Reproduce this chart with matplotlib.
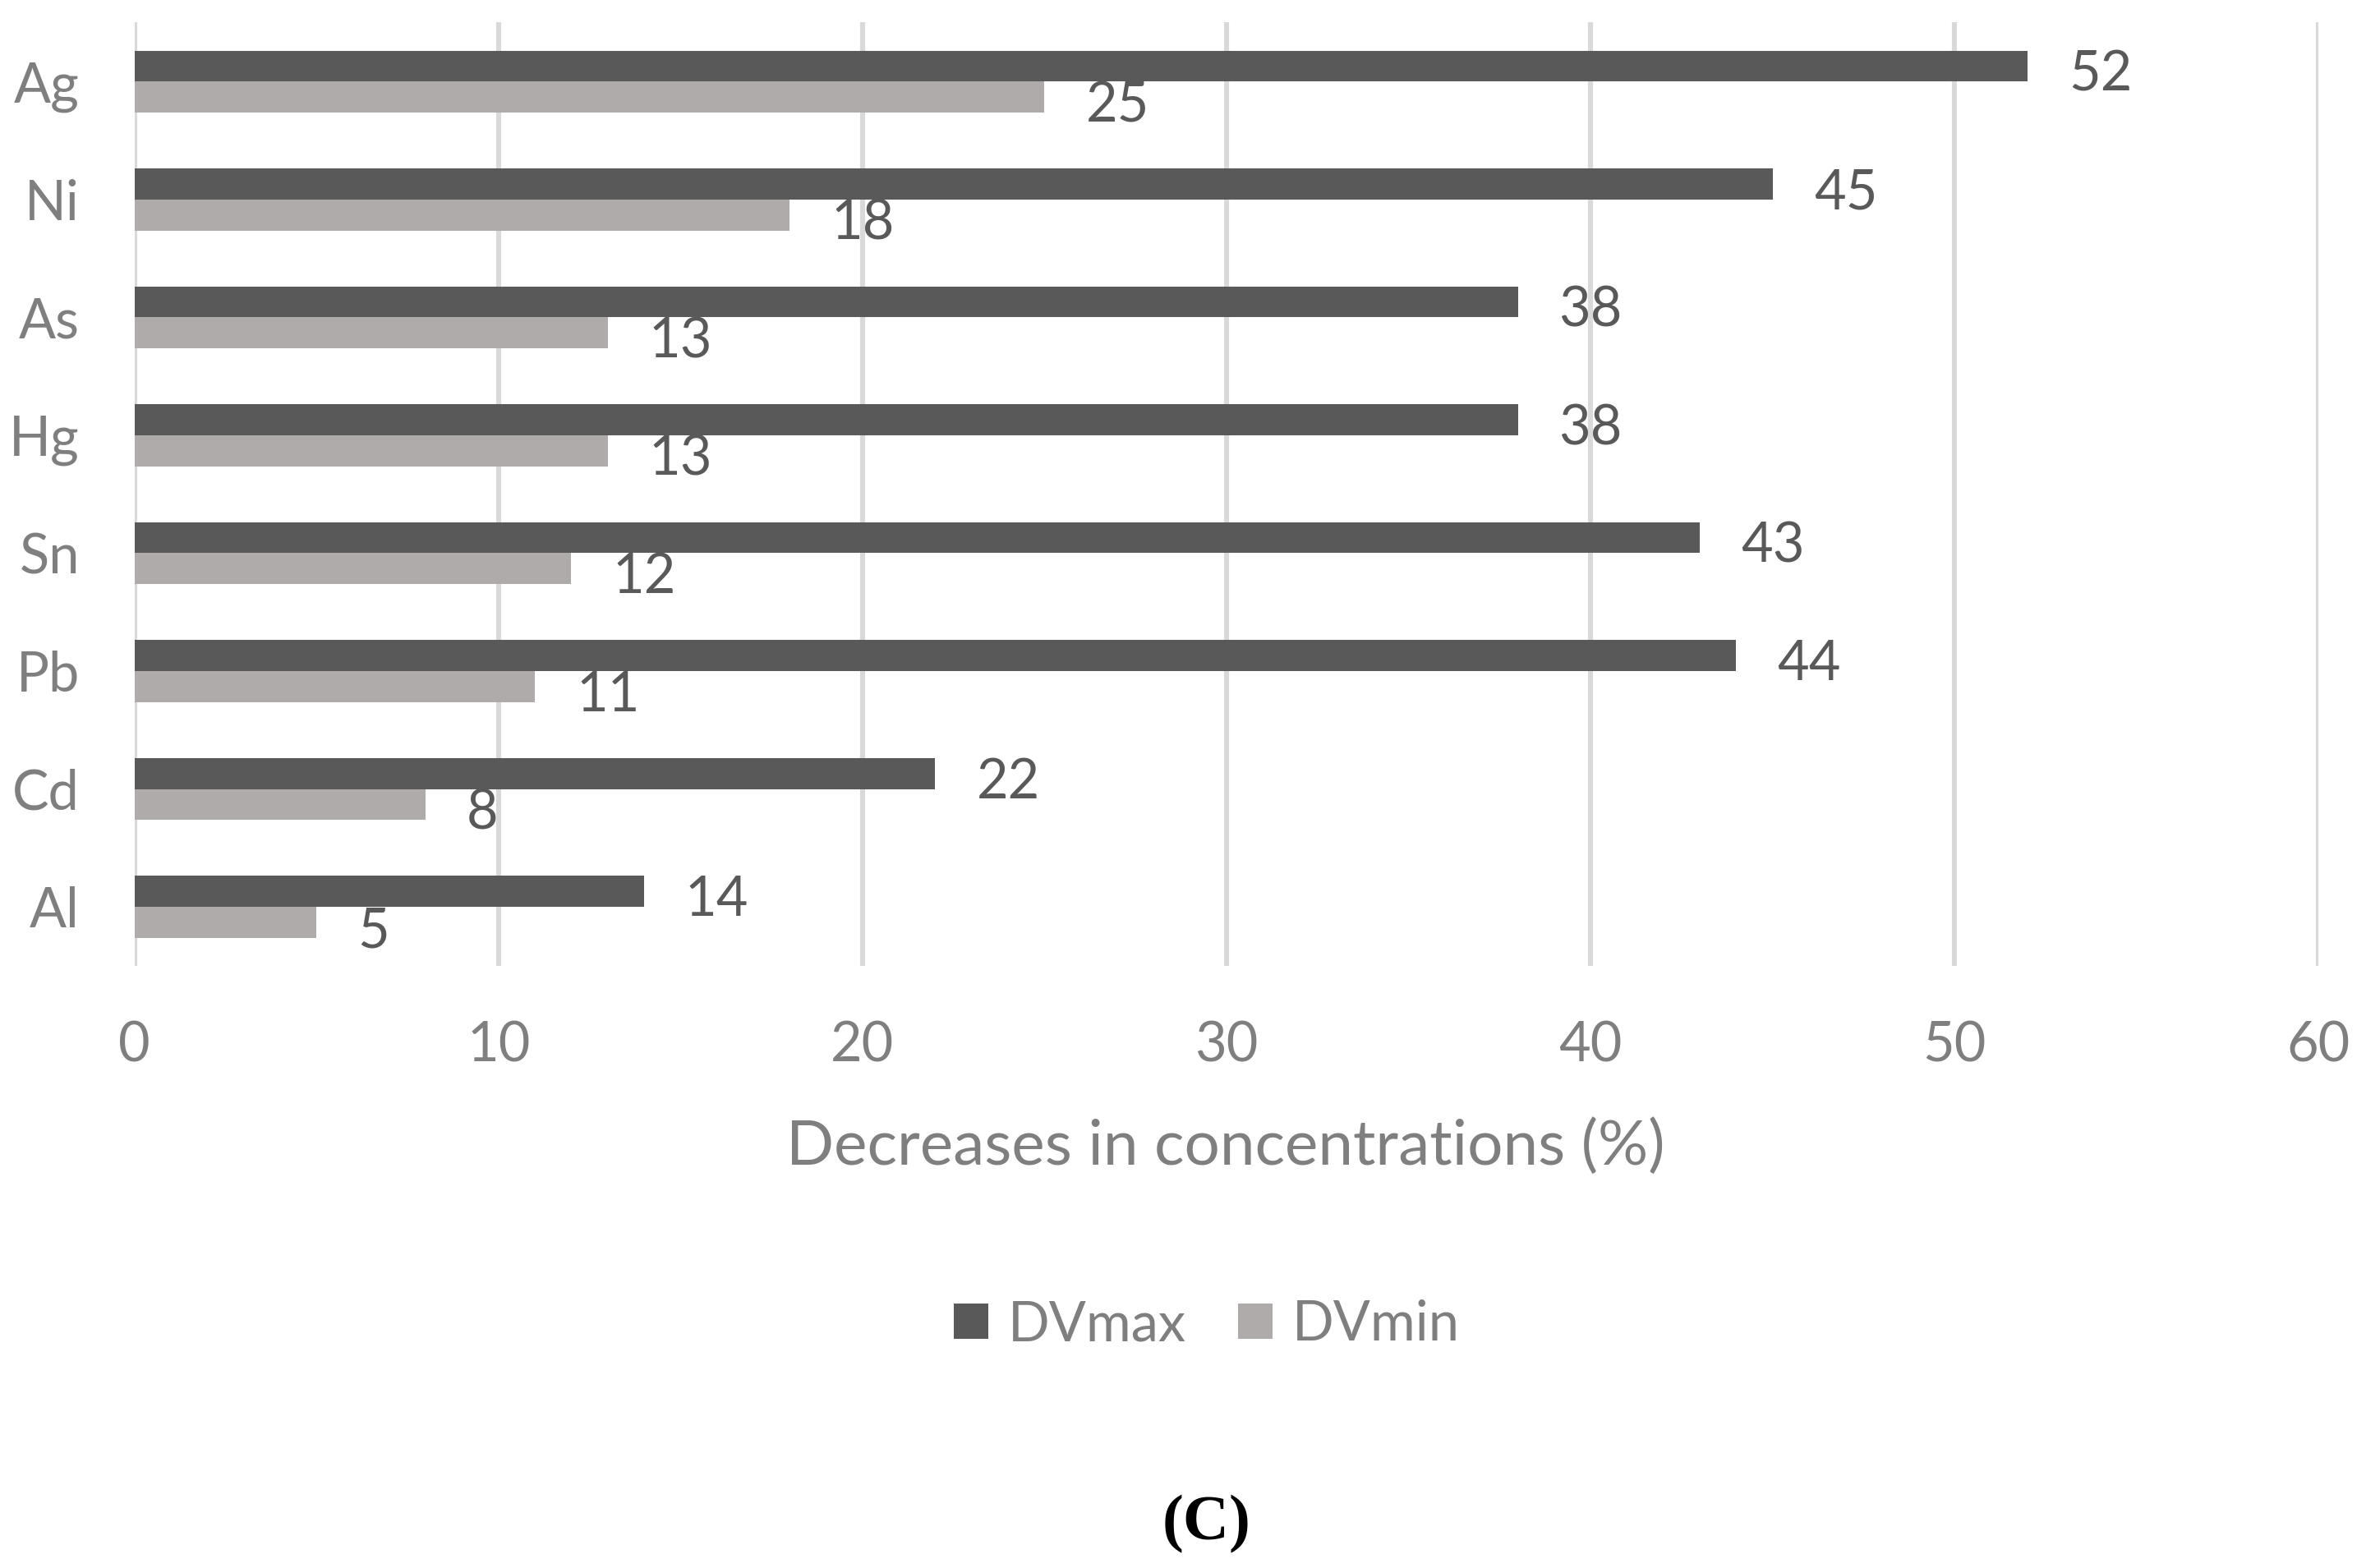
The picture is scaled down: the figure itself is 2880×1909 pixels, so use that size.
import numpy as np
import matplotlib.pyplot as plt
from matplotlib.patches import Patch

plt.rcParams['font.family'] = ['Lato', 'DejaVu Sans']

elements = ['Al', 'Cd', 'Pb', 'Sn', 'Hg', 'As', 'Ni', 'Ag']
dv_max = [14, 22, 44, 43, 38, 38, 45, 52]
dv_min = [5, 8, 11, 12, 13, 13, 18, 25]
x_ticks = [0, 10, 20, 30, 40, 50, 60]

dark = '#595959'
light = '#afabab'
txt_gray = '#7f7f7f'

fig = plt.figure(figsize=(14.4, 9.545), dpi=200)
ax = fig.add_axes([0.0568, 0.384, 0.9232, 0.6016])

y = np.arange(len(elements))
h = 0.2625
bars_max = ax.barh(y + h / 2, dv_max, height=h, color=dark, zorder=3)
bars_min = ax.barh(y - h / 2, dv_min, height=h, color=light, zorder=3)

# value labels to the right of each bar
for b, v in zip(bars_max, dv_max):
    ax.annotate(str(v), (b.get_width(), b.get_y() + b.get_height() / 2),
                xytext=(18, -4), textcoords='offset points',
                ha='left', va='center', fontsize=24, color=dark)
for b, v in zip(bars_min, dv_min):
    ax.annotate(str(v), (b.get_width(), b.get_y() + b.get_height() / 2),
                xytext=(18, -4), textcoords='offset points',
                ha='left', va='center', fontsize=24, color=dark)

ax.set_xlim(0, 60)
ax.set_ylim(-0.5, len(elements) - 0.5)
ax.set_xticks(x_ticks)
ax.set_yticks(y)
ax.set_yticklabels(elements)
ax.tick_params(axis='both', length=0, labelsize=24, labelcolor=txt_gray)
ax.tick_params(axis='x', pad=24)
ax.tick_params(axis='y', pad=24)
ax.xaxis.grid(True, color='#d9d9d9', linewidth=2.2, zorder=0)
for s in ax.spines.values():
    s.set_visible(False)

fig.text(0.518, 0.269, 'Decreases in concentrations (%)', ha='center', va='center',
         fontsize=27.5, color=txt_gray)

handles = [Patch(facecolor=dark, label='DVmax'), Patch(facecolor=light, label='DVmin')]
fig.legend(handles=handles, loc='center', bbox_to_anchor=(0.51, 0.155), ncol=2,
           frameon=False, fontsize=24, labelcolor=txt_gray,
           handlelength=0.63, handleheight=0.63, handletextpad=0.36, columnspacing=0.95)

fig.text(0.51, 0.028, '(C)', ha='center', va='center', fontsize=28,
         fontweight='bold', family='Liberation Serif', color='black')

fig.savefig('out.png', dpi=200)
